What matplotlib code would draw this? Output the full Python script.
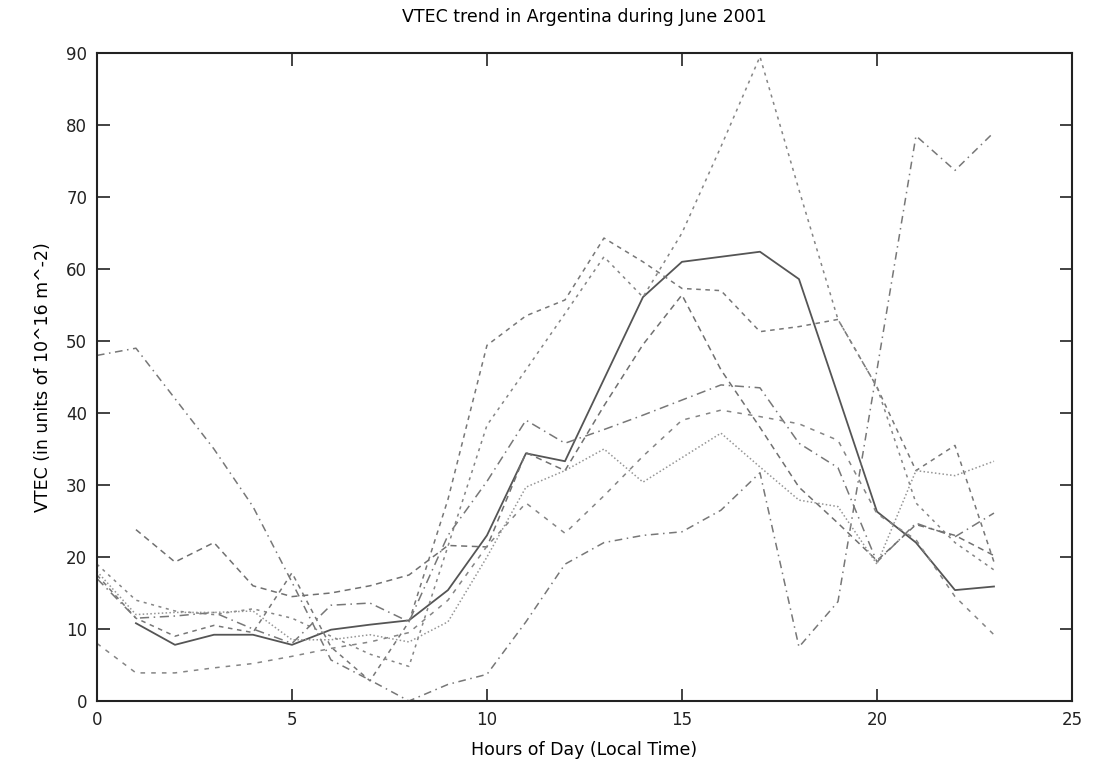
import numpy as np
import matplotlib
matplotlib.use("Agg")
import matplotlib.pyplot as plt

plt.rcParams['font.family'] = ['DejaVu Sans']

nan = np.nan
hours = np.arange(24)

# VTEC values, one list per station/day trace
vtec_solid = [nan, 10.8, 7.8, 9.2, 9.2, 7.8, 9.9, 10.6, 11.2, 15.4, 23.0, 34.4,
              33.3, 44.7, 56.1, 61.0, 61.7, 62.4, 58.6, 42.5, 26.3, 22.0, 15.4, 15.9]
vtec_b = [48.0, 49.0, 42.0, 35.0, 27.0, 16.5, 5.7, 2.9, 0.0, 2.3, 3.7, 11.0,
          19.0, 22.0, 23.0, 23.5, 26.5, 31.7, 7.5, 13.8, 46.0, 78.5, 73.7, 79.0]
vtec_h = [17.5, 11.5, 9.0, 10.5, 9.5, 17.8, 7.5, 2.8, 11.0, 28.0, 49.4, 53.5,
          55.7, 64.3, 61.0, 57.3, 57.0, 51.3, 52.0, 53.0, 43.6, 32.0, 35.5, 19.3]
vtec_c = [19.0, 14.0, 12.5, 12.0, 12.8, 11.5, 9.0, 6.5, 4.8, 21.5, 38.3, 46.0,
          53.8, 61.7, 56.1, 65.0, 77.0, 89.5, 71.0, 53.0, 43.6, 27.5, 22.0, 18.2]
vtec_f = [17.0, 11.5, 11.8, 12.3, 10.0, 8.0, 13.3, 13.6, 11.0, 23.0, 30.5, 39.0,
          35.8, 37.7, 39.7, 41.8, 43.9, 43.5, 35.8, 32.4, 19.3, 24.7, 22.8, 26.1]
vtec_e = [nan, 23.8, 19.3, 22.0, 16.0, 14.5, 15.0, 16.0, 17.5, 21.6, 21.4, 34.5,
          32.0, 41.0, 49.5, 56.4, 46.0, 38.0, 29.7, 24.7, 19.5, 24.5, 23.0, 20.2]
vtec_i = [18.0, 12.0, 12.3, 12.3, 12.5, 8.5, 8.5, 9.2, 8.2, 11.0, 20.0, 29.7,
          32.0, 35.0, 30.4, 33.8, 37.2, 32.5, 27.9, 27.0, 19.0, 32.0, 31.3, 33.3]
vtec_m = [8.0, 3.9, 3.9, 4.6, 5.2, 6.2, 7.3, 8.2, 9.5, 14.0, 21.5, 27.5,
          23.3, 28.5, 34.0, 39.0, 40.4, 39.5, 38.5, 36.2, 26.0, 22.4, 14.5, 9.2]

fig = plt.figure(figsize=(10.98, 7.72), dpi=100)
ax = fig.add_axes([0.0883, 0.092, 0.888, 0.8393])

ax.plot(hours, vtec_solid, color="#555555", lw=1.3, ls="-")
ax.plot(hours, vtec_b, color="#777777", lw=1.1, ls=(0, (5, 3, 1, 3)))
ax.plot(hours, vtec_h, color="#777777", lw=1.1, ls=(0, (3, 3)))
ax.plot(hours, vtec_c, color="#858585", lw=1.1, ls=(0, (2, 3)))
ax.plot(hours, vtec_f, color="#777777", lw=1.1, ls=(0, (6, 3, 1, 3)))
ax.plot(hours, vtec_e, color="#707070", lw=1.1, ls=(0, (4, 3)))
ax.plot(hours, vtec_i, color="#959595", lw=1.1, ls=(0, (1, 1.5)))
ax.plot(hours, vtec_m, color="#858585", lw=1.1, ls=(0, (3, 4)))

ax.set_xlim(0, 25)
ax.set_ylim(0, 90)
ax.set_xticks(np.arange(0, 26, 5))
ax.set_yticks(np.arange(0, 91, 10))
ax.tick_params(direction="in", top=True, right=True, length=9, width=1.2,
               labelsize=12, pad=7, colors="#222222")
for s in ax.spines.values():
    s.set_linewidth(1.5)
    s.set_color("#222222")

ax.set_title("VTEC trend in Argentina during June 2001", fontsize=12.5, pad=22)
ax.set_xlabel("Hours of Day (Local Time)", fontsize=12.5, labelpad=9)
ax.set_ylabel("VTEC (in units of 10^16 m^-2)", fontsize=12.5, labelpad=10)

fig.savefig("out.png", dpi=100)
